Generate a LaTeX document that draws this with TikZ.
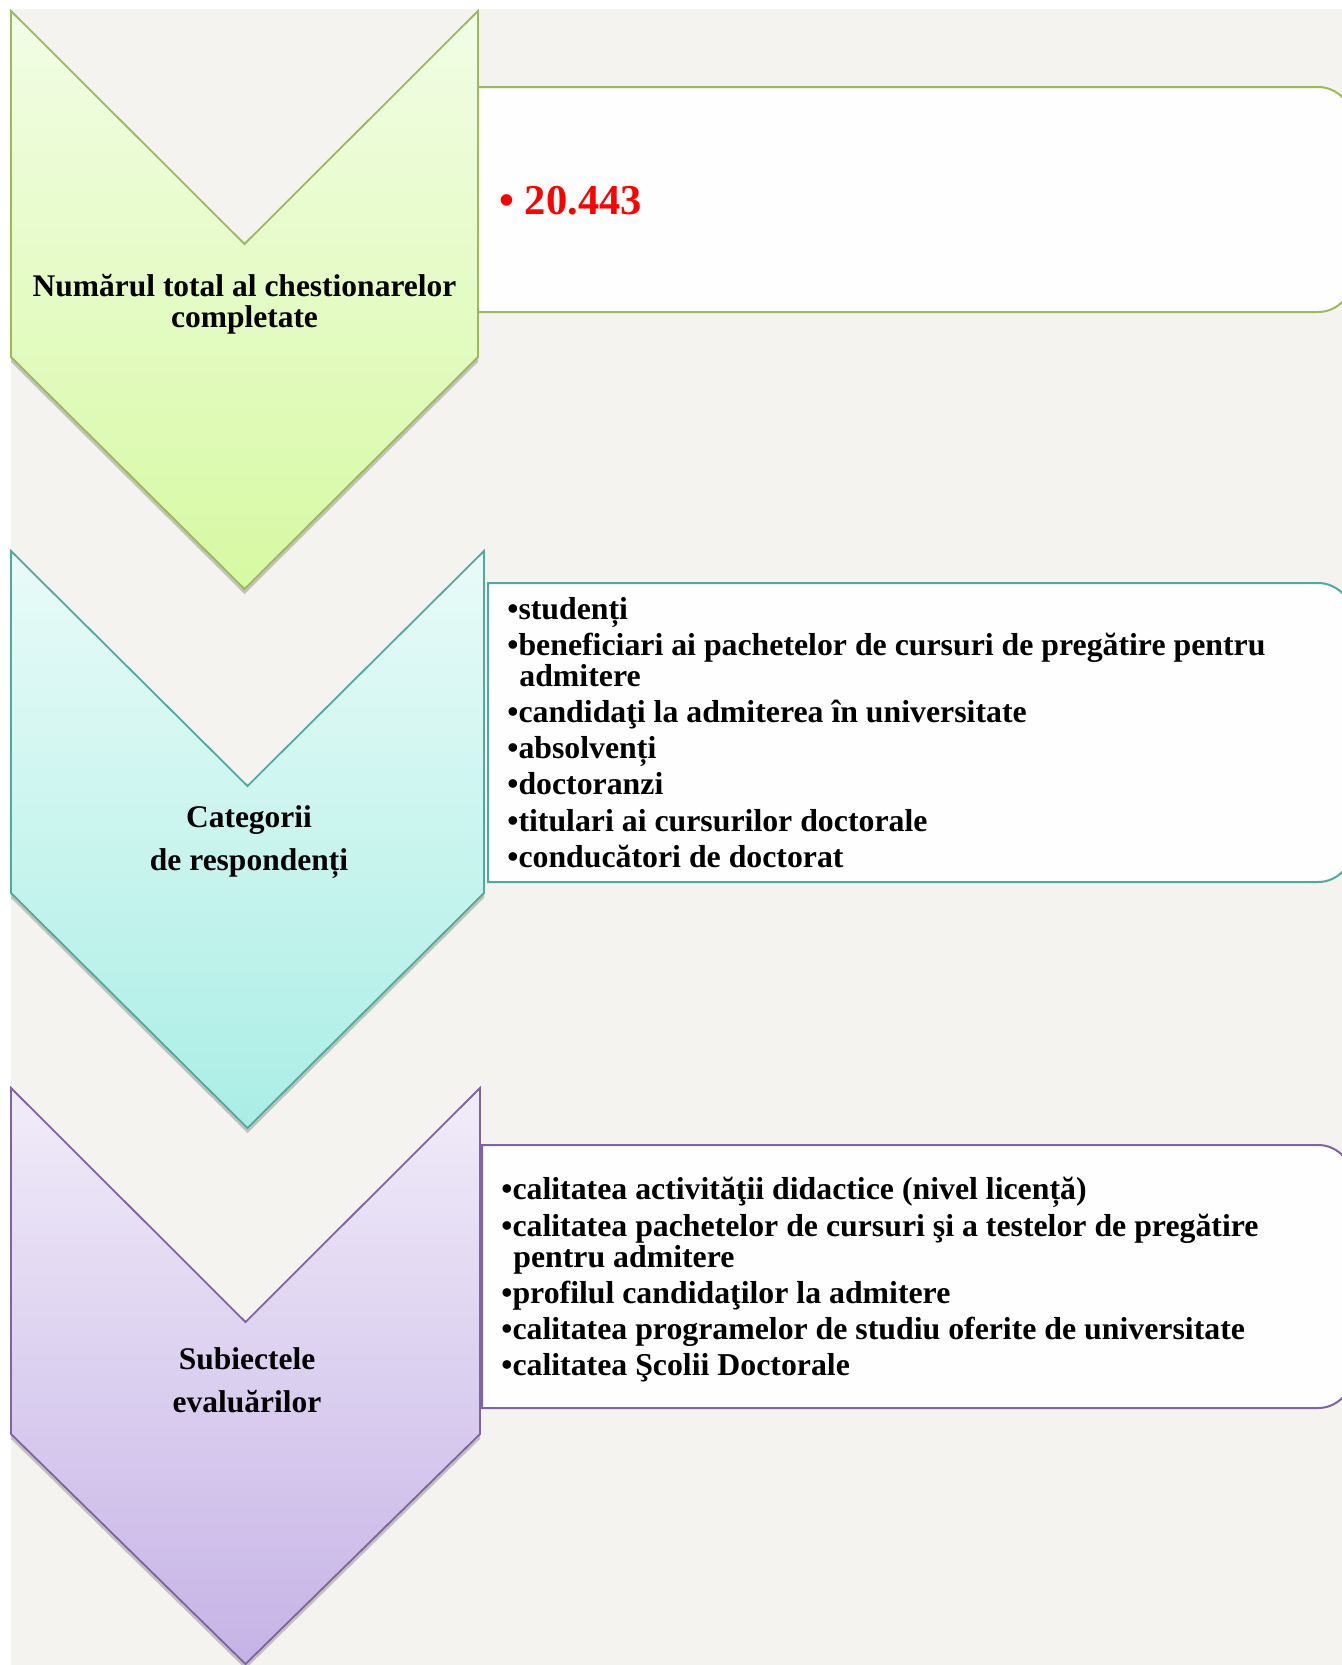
\documentclass[tikz,border=0pt]{standalone}
\usepackage{fontspec}
\setmainfont{Liberation Serif}
\usetikzlibrary{shadows}
\definecolor{bg}{HTML}{F4F3EF}
\definecolor{gBorder}{HTML}{9BBB59}
\definecolor{gTop}{HTML}{F2FDE6}
\definecolor{gBot}{HTML}{D7F9A2}
\definecolor{tBorder}{HTML}{52A9A0}
\definecolor{tTop}{HTML}{E9FBF8}
\definecolor{tBot}{HTML}{AAEEE5}
\definecolor{pBorder}{HTML}{8064A2}
\definecolor{pTop}{HTML}{F1ECF9}
\definecolor{pBot}{HTML}{C6B3E6}
\definecolor{boxfill}{HTML}{FEFEFE}
\newcommand\lblfont{\fontsize{15.75}{15.5}\selectfont\bfseries}
\newcommand\lblfontB{\fontsize{15.75}{21.75}\selectfont\bfseries}
\newcommand\boxfont{\fontsize{15.9}{15.5}\selectfont\bfseries}
\newcommand\numfont{\fontsize{21.25}{22}\selectfont\bfseries}
\tikzset{
  chevshadow/.style={drop shadow={shadow xshift=0pt, shadow yshift=-2.5pt, opacity=0.35, fill=black!60}},
  chevG/.style={draw=gBorder, line width=0.9pt, top color=gTop, bottom color=gBot, chevshadow},
  chevT/.style={draw=tBorder, line width=0.9pt, top color=tTop, bottom color=tBot, chevshadow},
  chevP/.style={draw=pBorder, line width=0.9pt, top color=pTop, bottom color=pBot, chevshadow},
  listbox/.style={fill=boxfill, line width=1pt},
  lbl/.style={align=center, inner sep=0pt, text=black},
  itm/.style={anchor=base west, inner sep=0pt, font=\boxfont, text=black},
}
\begin{document}
\begin{tikzpicture}[x=0.5pt,y=-0.5pt]
\useasboundingbox (0,0) rectangle (1342,1665);
\fill[white] (0,0) rectangle (1342,1665);
\fill[bg] (11,9) rectangle (1342,1665);
\begin{scope}
\clip (0,0) rectangle (1342,1665);
% boxes (square left corners, rounded right corners, r = 34)
\draw[listbox, draw=gBorder] (477,87) -- (1318,87) .. controls (1336.8,87) and (1352,102.2) .. (1352,121)
  -- (1352,278) .. controls (1352,296.8) and (1336.8,312) .. (1318,312) -- (477,312) -- cycle;
\draw[listbox, draw=tBorder] (488,583) -- (1318,583) .. controls (1336.8,583) and (1352,598.2) .. (1352,617)
  -- (1352,848) .. controls (1352,866.8) and (1336.8,882) .. (1318,882) -- (488,882) -- cycle;
\draw[listbox, draw=pBorder] (482,1145) -- (1318,1145) .. controls (1336.8,1145) and (1352,1160.2) .. (1352,1179)
  -- (1352,1374) .. controls (1352,1392.8) and (1336.8,1408) .. (1318,1408) -- (482,1408) -- cycle;
% chevrons
\path[chevG] (11,11) -- (244.5,244) -- (478,11) -- (478,357) -- (244.5,589) -- (11,357) -- cycle;
\path[chevT] (11,551) -- (247.5,786) -- (484,551) -- (484,893) -- (247.5,1128) -- (11,893) -- cycle;
\path[chevP] (11,1088) -- (245.5,1322) -- (480,1088) -- (480,1434) -- (245.5,1664) -- (11,1434) -- cycle;
\end{scope}
% chevron labels
\node[lbl, font=\lblfont] (l1) at (244.5,304) {Numărul total al chestionarelor\\completate};
\node[lbl, font=\lblfontB] (l2) at (249,842) {Categorii\\de respondenți};
\node[lbl, font=\lblfontB] (l3) at (247,1380) {Subiectele\\evaluărilor};
% box 1
\node[anchor=base west, inner sep=0pt, font=\numfont, text=red] (n1) at (499,214) {• 20.443};
% box 2
\node[itm] (a1) at (507,619) {•studenți};
\node[itm] (a2) at (507,655) {•beneficiari ai pachetelor de cursuri de pregătire pentru};
\node[itm] (a3) at (519,686) {admitere};
\node[itm] (a4) at (507,722) {•candidaţi la admiterea în universitate};
\node[itm] (a5) at (507,758) {•absolvenți};
\node[itm] (a6) at (507,794) {•doctoranzi};
\node[itm] (a7) at (507,831) {•titulari ai cursurilor doctorale};
\node[itm] (a8) at (507,867) {•conducători de doctorat};
% box 3
\node[itm] (c1) at (501,1199) {•calitatea activităţii didactice (nivel licență)};
\node[itm] (c2) at (501,1236) {•calitatea pachetelor de cursuri şi a testelor de pregătire};
\node[itm] (c3) at (513,1267) {pentru admitere};
\node[itm] (c4) at (501,1303) {•profilul candidaţilor la admitere};
\node[itm] (c5) at (501,1339) {•calitatea programelor de studiu oferite de universitate};
\node[itm] (c6) at (501,1375) {•calitatea Şcolii Doctorale};
\end{tikzpicture}
\end{document}
